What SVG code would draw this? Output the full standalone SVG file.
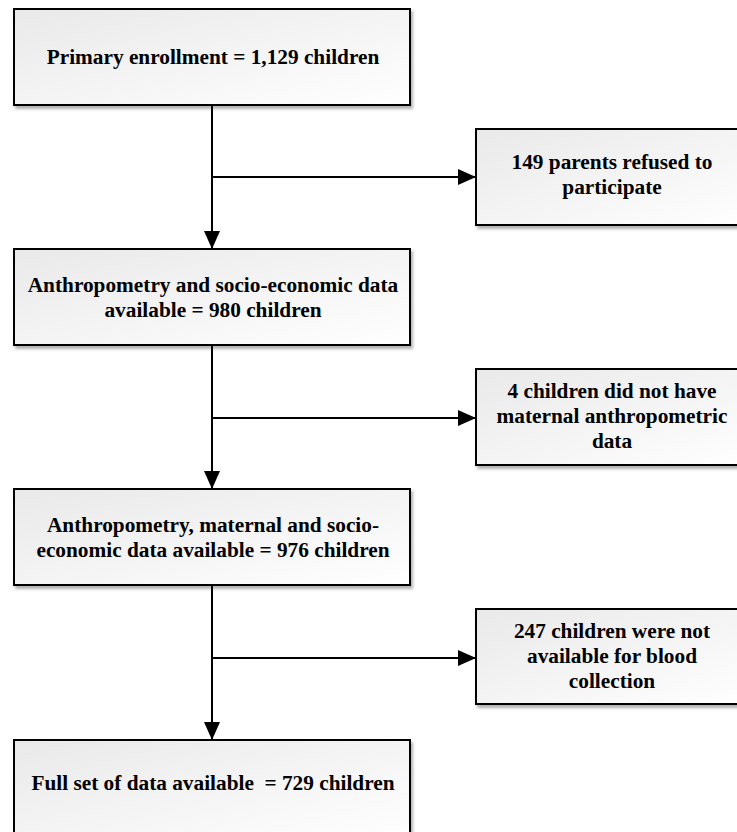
<svg xmlns="http://www.w3.org/2000/svg" width="737" height="832" viewBox="0 0 737 832">
  <defs>
    <linearGradient id="boxFill" x1="0" y1="0" x2="1" y2="1">
      <stop offset="0" stop-color="#e9e9e9"/>
      <stop offset="1" stop-color="#ffffff"/>
    </linearGradient>
    <filter id="shadow" x="-5%" y="-10%" width="115%" height="130%">
      <feDropShadow dx="2" dy="3" stdDeviation="1.5" flood-color="#000" flood-opacity="0.3"/>
    </filter>
    <marker id="arrow" viewBox="0 0 18 16" refX="18" refY="8" markerWidth="18" markerHeight="16" markerUnits="userSpaceOnUse" orient="auto">
      <path d="M0,0 L18,8 L0,16 Z" fill="#000"/>
    </marker>
  </defs>
  <style>
    .box { fill: url(#boxFill); stroke: #000; stroke-width: 2; filter: url(#shadow); }
    .lbl { font-weight: bold; font-size: 21.3px; fill: #000; text-anchor: middle; white-space: pre; }
    .conn { stroke: #000; stroke-width: 2; fill: none; }
  </style>
  <rect width="737" height="832" fill="#ffffff"/>

  <g id="connectors">
    <line class="conn" x1="212" y1="105" x2="212" y2="249" marker-end="url(#arrow)"/>
    <line class="conn" x1="212" y1="177" x2="476" y2="177" marker-end="url(#arrow)"/>
    <line class="conn" x1="212" y1="345" x2="212" y2="489" marker-end="url(#arrow)"/>
    <line class="conn" x1="212" y1="418" x2="476" y2="418" marker-end="url(#arrow)"/>
    <line class="conn" x1="212" y1="585" x2="212" y2="740" marker-end="url(#arrow)"/>
    <line class="conn" x1="212" y1="658" x2="476" y2="658" marker-end="url(#arrow)"/>
  </g>

  <g id="labels-font" font-family="'Liberation Serif', 'DejaVu Serif', serif">
  <g id="primary">
    <rect class="box" x="14" y="9" width="396" height="96"/>
    <text class="lbl" x="213" y="64">Primary enrollment = 1,129 children</text>
  </g>

  <g id="refused">
    <rect class="box" x="476" y="129" width="272" height="96"/>
    <text class="lbl" x="612" y="169">149 parents refused to</text>
    <text class="lbl" x="612" y="194">participate</text>
  </g>

  <g id="anthro">
    <rect class="box" x="14" y="249" width="396" height="96"/>
    <text class="lbl" x="213" y="292">Anthropometry and socio-economic data</text>
    <text class="lbl" x="213" y="317">available = 980 children</text>
  </g>

  <g id="nomaternal">
    <rect class="box" x="476" y="369" width="272" height="96"/>
    <text class="lbl" x="612" y="398">4 children did not have</text>
    <text class="lbl" x="612" y="423">maternal anthropometric</text>
    <text class="lbl" x="612" y="448">data</text>
  </g>

  <g id="maternal">
    <rect class="box" x="14" y="489" width="396" height="96"/>
    <text class="lbl" x="213" y="532">Anthropometry, maternal and socio-</text>
    <text class="lbl" x="213" y="557">economic data available = 976 children</text>
  </g>

  <g id="noblood">
    <rect class="box" x="476" y="609" width="272" height="95"/>
    <text class="lbl" x="612" y="638">247 children were not</text>
    <text class="lbl" x="612" y="663">available for blood</text>
    <text class="lbl" x="612" y="688">collection</text>
  </g>

  <g id="fullset">
    <rect class="box" x="14" y="740" width="396" height="100"/>
    <text class="lbl" x="213" y="790">Full set of data available  = 729 children</text>
  </g>
  </g>
</svg>
